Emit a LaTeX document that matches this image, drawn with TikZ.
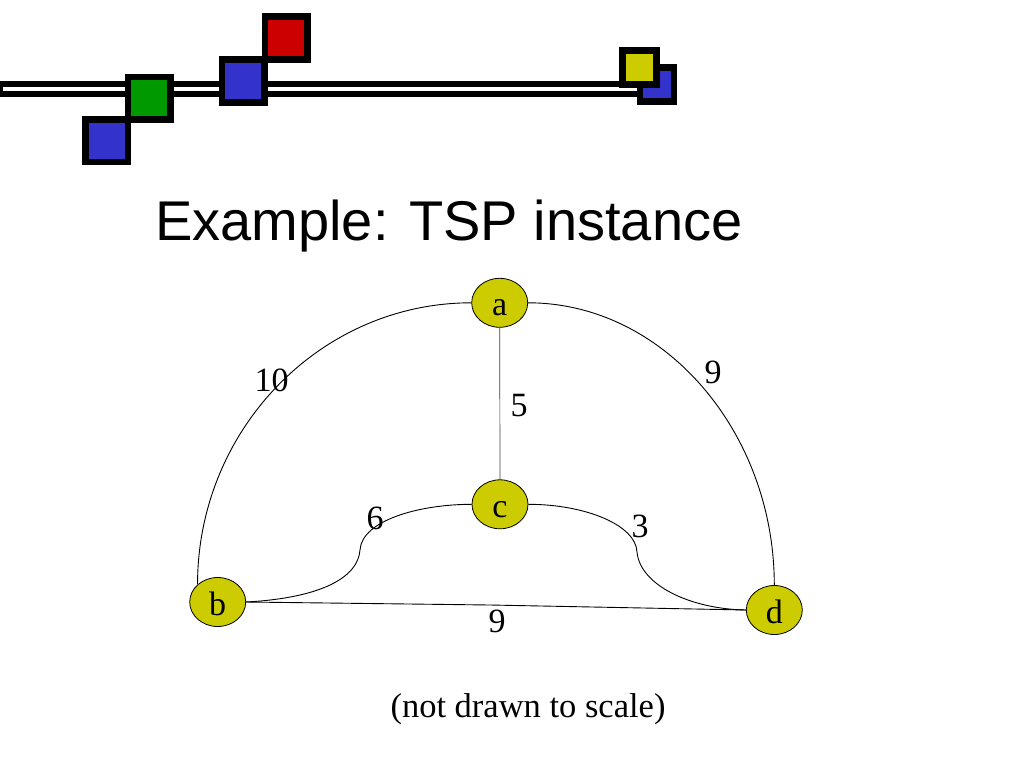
\documentclass[tikz,border=0pt]{standalone}
\usepackage{fontspec}
\setmainfont{Liberation Serif}
\newfontfamily\titlefont{Liberation Sans}
\usetikzlibrary{shapes.geometric}
\definecolor{sqblue}{RGB}{51,51,204}
\definecolor{sqgreen}{RGB}{0,153,0}
\definecolor{sqred}{RGB}{204,0,0}
\definecolor{sqyellow}{RGB}{204,204,0}
\definecolor{nodefill}{RGB}{204,204,0}
\begin{document}
\begin{tikzpicture}[x=1pt,y=-1pt,
  sq/.style={draw=black, line width=6.5pt, minimum size=42.5pt, inner sep=0pt, shape=rectangle},
  smallsq/.style={sq, minimum size=34pt},
  city/.style={ellipse, draw=black, line width=0.8pt, fill=nodefill, minimum width=56pt, minimum height=49pt, inner sep=0pt, text height=26pt, text depth=0pt, font=\fontsize{34}{40}\selectfont},
  lbl/.style={inner sep=0pt, font=\fontsize{34}{40}\selectfont},
  edge/.style={draw=black, line width=0.9pt}]
\useasboundingbox (0,0) rectangle (1024,768);
\fill[white] (0,0) rectangle (1024,768);

% decorative bar
\coordinate (barL) at (0,89);
\coordinate (barR) at (655,89);
\coordinate (barLi) at (3,89);
\coordinate (barRi) at (650,89);
\draw[black, line width=16pt] (barL) -- (barR);
\draw[white, line width=4pt] (barLi) -- (barRi);

\node[sq, fill=sqblue] (sq1) at (106.5,140.5) {};
\node[sq, fill=sqgreen] (sq2) at (149,98) {};
\node[sq, fill=sqblue] (sq3) at (243,81) {};
\node[sq, fill=sqred] (sq4) at (286,38) {};
\node[smallsq, fill=sqblue] (sq5) at (657,84.7) {};
\node[smallsq, fill=sqyellow] (sq6) at (639.7,67.5) {};

% title
\node[anchor=base west, inner sep=0pt, font=\titlefont\fontsize{56}{60}\selectfont] (title) at (155,240) {Example: TSP instance};

% cities
\node[city] (a) at (499.7,302.8) {a};
\node[city] (b) at (217.7,602) {b};
\node[city] (c) at (500,504.3) {c};
\node[city] (d) at (774.3,610) {d};

% edges
\draw[edge] (a.west) .. controls (320,302.8) and (197.5,430) .. (b.139);
\draw[edge] (a.east) .. controls (664,302.8) and (774.3,432) .. (d.north);
\draw[edge, line width=0.7pt, draw=black!75] (a.south) -- (c.north);
\draw[edge] (b.east) .. controls (320,598) and (358,578) .. (360,550)
             .. controls (362,520) and (420,504.3) .. (c.west);
\draw[edge] (c.east) .. controls (585,504.3) and (636,525) .. (637,552)
             .. controls (640,585) and (690,609) .. (d.west);
\coordinate (bdmid) at (490,605);
\draw[edge] (b.east) -- (bdmid) -- (d.west);

% edge labels
\node[lbl] (l10) at (271.7,380) {10};
\node[lbl] (l9a) at (713,372) {9};
\node[lbl] (l5) at (519,406) {5};
\node[lbl] (l6) at (375,518) {6};
\node[lbl] (l3) at (640,526) {3};
\node[lbl] (l9b) at (497,621) {9};

% note
\node[anchor=base, inner sep=0pt, font=\fontsize{34.5}{40}\selectfont] (note) at (528,717.3) {(not drawn to scale)};
\end{tikzpicture}
\end{document}
